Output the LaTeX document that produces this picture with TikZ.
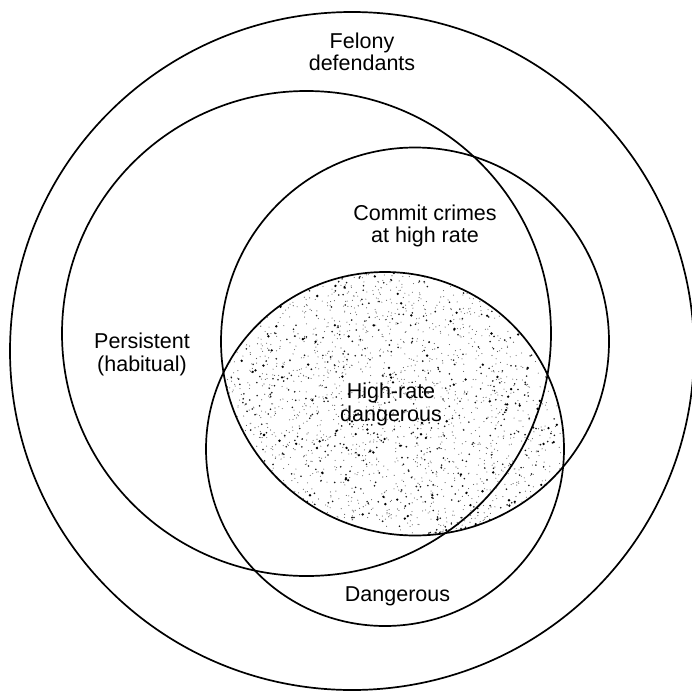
\documentclass[tikz,border=0pt]{standalone}
\usepackage{fontspec}
\setmainfont{Liberation Sans}
\begin{document}
\begin{tikzpicture}[x=1pt,y=-1pt,
  ring/.style={line width=1.7pt},
  lbl/.style={anchor=base, align=center, inner sep=0pt, font=\fontsize{21.5}{22.5}\selectfont},
  sdot/.style={fill=black!65},
  mdot/.style={fill=black!90},
  bdot/.style={fill=black}]
\useasboundingbox (0,0) rectangle (692,690);
% stippled intersection of "Commit crimes" and "Dangerous"
\begin{scope}
  \clip (415,341) circle[radius=194];
  \clip (385,449) circle[radius=178];
  \pgfmathsetseed{7}
  \foreach \i in {1,...,2400}{
    \pgfmathsetmacro{\px}{206+403*rnd}
    \pgfmathsetmacro{\py}{272+263*rnd}
    \fill[sdot] (\px,\py) circle[radius=0.55];
  }
  \foreach \i in {1,...,650}{
    \pgfmathsetmacro{\px}{206+403*rnd}
    \pgfmathsetmacro{\py}{272+263*rnd}
    \fill[mdot] (\px,\py) circle[radius=0.9];
  }
  \foreach \i in {1,...,160}{
    \pgfmathsetmacro{\px}{206+403*rnd}
    \pgfmathsetmacro{\py}{272+263*rnd}
    \fill[bdot] (\px,\py) circle[radius=1.3];
  }
\end{scope}
% circles
\draw[ring] (352,351) ellipse[x radius=342, y radius=339];
\draw[ring] (306.5,333.5) ellipse[x radius=244.5, y radius=242.5];
\draw[ring] (415,341.5) circle[radius=194];
\draw[ring] (385,449) ellipse[x radius=179, y radius=177];
% labels (anchor at baseline of the last line)
\node[lbl] (felony) at (362,71) {Felony\\defendants};
\node[lbl] (commit) at (425,242.5) {Commit crimes\\at high rate};
\node[lbl] (persist) at (142,371) {Persistent\\(habitual)};
\node[lbl] (hrd) at (391,421) {High-rate\\dangerous};
\node[lbl] (dang) at (397.5,601.5) {Dangerous};
\end{tikzpicture}
\end{document}
